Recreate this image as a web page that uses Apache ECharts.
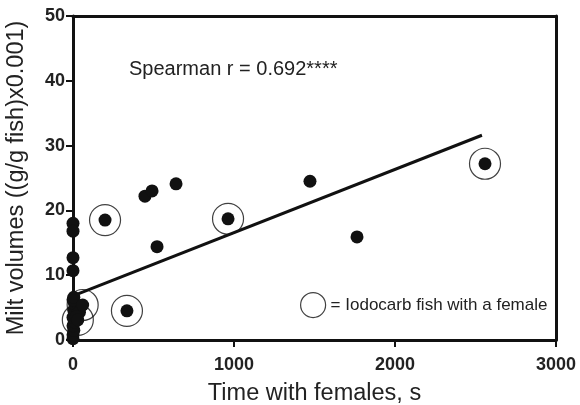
<!DOCTYPE html>
<html>
<head>
<meta charset="utf-8">
<script src="https://cdn.jsdelivr.net/npm/echarts@6/dist/echarts.min.js"></script>
<style>
  html, body { margin: 0; padding: 0; background: #fff; }
  #main { width: 580px; height: 405px; }
</style>
</head>
<body>
<div id="main"></div>
<script>
var myChart = echarts.init(document.getElementById("main"));

// 时间(s), 精液量
var fishPoints = [
    [1472, 24.5], [1764, 15.9], [640, 24.1], [447, 22.2], [491, 23.0], [522, 14.4],
    [0, 18.0], [0, 16.8], [0, 12.7], [0, 10.7],
    [0, 0.2], [0, 0.8], [5, 1.5], [0, 2.2], [10, 2.8], [0, 3.5], [15, 4.0], [5, 4.6],
    [25, 5.0], [10, 5.6], [35, 5.2], [0, 6.2], [5, 6.6], [40, 4.3], [20, 3.6]
];
// 有雌鱼的 Iodocarb 组
var iodocarbPoints = [
    [2559, 27.2], [963, 18.7], [199, 18.5], [335, 4.5], [60, 5.4], [30, 3.1]
];
// 回归线两端
var fitLine = [[0, 6.8], [2540, 31.6]];

var xTicks = [0, 1000, 2000, 3000];
var yTicks = [0, 10, 20, 30, 40, 50];

var legendName = "= Iodocarb fish with a female";
var font = '"Liberation Sans", Arial, sans-serif';

var option = {
    animation: false,
    backgroundColor: '#fff',
    title: {
        text: "Spearman r = 0.692****",
        left: 124,
        top: 54,
        textStyle: {
            fontFamily: font,
            fontSize: 20,
            fontWeight: 'normal',
            color: '#222'
        }
    },
    legend: {
        left: 295,
        top: 287,
        itemWidth: 25,
        itemHeight: 25,
        itemGap: 6,
        textStyle: {
            fontFamily: font,
            fontSize: 17,
            color: '#222'
        },
        data: [{
            name: legendName,
            icon: 'circle',
            itemStyle: {
                color: 'rgba(0,0,0,0)',
                borderColor: '#111',
                borderWidth: 1.2
            }
        }]
    },
    grid: {
        left: 73,
        right: 24,
        top: 16,
        bottom: 65,
        outerBoundsMode: 'none',
        containLabel: false
    },
    xAxis: [{
        type: 'value',
        min: xTicks[0],
        max: xTicks[xTicks.length - 1],
        interval: 1000,
        name: "Time with females, s",
        nameLocation: 'middle',
        nameGap: 42,
        nameTextStyle: {
            fontFamily: font,
            fontSize: 23.5,
            color: '#222'
        },
        axisLine: { onZero: false, lineStyle: { color: '#111', width: 3 } },
        axisTick: { length: 7, lineStyle: { color: '#111', width: 2 } },
        axisLabel: {
            margin: 16,
            fontFamily: font,
            fontSize: 18,
            fontWeight: 'bold',
            color: '#222',
            formatter: function (v) { return String(v); }
        },
        splitLine: { show: false }
    }, {
        type: 'value',
        position: 'top',
        min: xTicks[0],
        max: xTicks[xTicks.length - 1],
        axisLine: { show: true, onZero: false, lineStyle: { color: '#111', width: 3 } },
        axisTick: { show: false },
        axisLabel: { show: false },
        splitLine: { show: false }
    }],
    yAxis: [{
        type: 'value',
        min: yTicks[0],
        max: yTicks[yTicks.length - 1],
        interval: 10,
        name: "Milt volumes ((g/g fish)x0.001)",
        nameLocation: 'middle',
        nameGap: 44,
        nameTextStyle: {
            fontFamily: font,
            fontSize: 23.5,
            color: '#222'
        },
        axisLine: { show: true, onZero: false, lineStyle: { color: '#111', width: 3 } },
        axisTick: { show: true, length: 7, lineStyle: { color: '#111', width: 2 } },
        axisLabel: {
            margin: 8,
            fontFamily: font,
            fontSize: 18,
            fontWeight: 'bold',
            color: '#222'
        },
        splitLine: { show: false }
    }, {
        type: 'value',
        position: 'right',
        min: yTicks[0],
        max: yTicks[yTicks.length - 1],
        axisLine: { show: true, onZero: false, lineStyle: { color: '#111', width: 3 } },
        axisTick: { show: false },
        axisLabel: { show: false },
        splitLine: { show: false }
    }],
    series: [
        {
            // 外圈
            name: legendName,
            type: 'scatter',
            symbol: 'circle',
            symbolSize: 31,
            z: 1,
            itemStyle: {
                color: 'rgba(0,0,0,0)',
                borderColor: '#111',
                borderWidth: 1.2
            },
            data: iodocarbPoints
        },
        {
            type: 'line',
            data: fitLine,
            showSymbol: false,
            symbol: 'none',
            z: 2,
            lineStyle: { color: '#111', width: 3 }
        },
        {
            type: 'scatter',
            symbolSize: 13,
            z: 3,
            itemStyle: { color: '#111', opacity: 1 },
            data: fishPoints.concat(iodocarbPoints)
        }
    ]
};

myChart.setOption(option);
</script>
</body>
</html>
